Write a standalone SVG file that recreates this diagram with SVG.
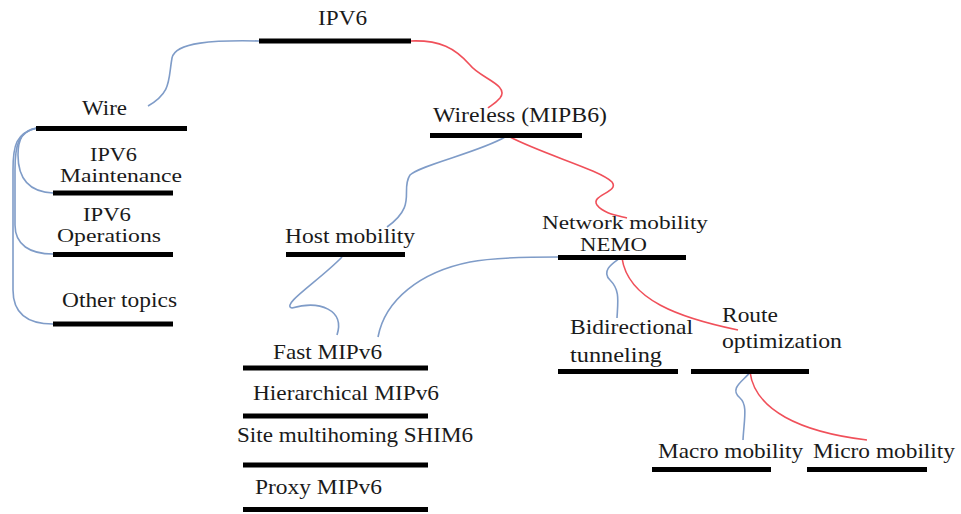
<svg xmlns="http://www.w3.org/2000/svg" width="961" height="514" viewBox="0 0 961 514">
<style>
.bar{stroke:#000;stroke-width:5;fill:none}
.b{stroke:#7f9cc8;stroke-width:1.6;fill:none}
.r{stroke:#f0505a;stroke-width:1.6;fill:none}
.t{font-family:'Liberation Serif','DejaVu Serif',serif;font-size:21px;fill:#1a1a1a}
.s{font-size:19px}
</style>
<rect width="961" height="514" fill="#fff"/>
<g id="connectors">
<path class="b" d="M259,41 C215,40 175,42 172,58 C168,80 172,92 148,106"/>
<path class="r" d="M411,41 C440,40 455,48 470,65 C480,78 510,85 500,98 C495,104 490,106 488,108"/>
<path class="b" d="M505,137 C480,152 420,165 410,175 C400,190 418,205 387,227"/>
<path class="r" d="M510,137 C545,155 600,170 612,182 C620,192 590,195 597,205 C603,213 615,215 627,218"/>
<path class="b" d="M558,257 C520,257 490,258 470,262 C420,272 385,300 378,337"/>
<path class="b" d="M342,257 C320,280 280,305 292,308 C320,300 345,310 337,335"/>
<path class="b" d="M620,258 C615,262 600,270 610,280 C620,290 618,300 617,318"/>
<path class="r" d="M622,258 C628,300 680,318 738,330"/>
<path class="b" d="M750,372 C745,380 728,388 740,398 C748,405 744,420 743,440"/>
<path class="r" d="M750,372 C755,410 800,432 867,440"/>
<path class="b" d="M37,128 C22,130 18,140 18,155 C18,180 30,192 53,193"/>
<path class="b" d="M37,128 C18,132 15,145 15,170 L15,225 C15,245 30,254 53,254"/>
<path class="b" d="M37,128 C16,133 13,145 13,170 L13,290 C13,315 30,324 53,324"/>
</g>
<g class="t" font-family="Liberation Serif, DejaVu Serif, serif">
<g id="ipv6"><text x="318" y="25" textLength="49" lengthAdjust="spacingAndGlyphs">IPV6</text><line class="bar" x1="259" y1="41" x2="411" y2="41"/></g>
<g id="wire"><text x="82" y="115" textLength="45" lengthAdjust="spacingAndGlyphs">Wire</text><line class="bar" x1="36" y1="128.5" x2="187" y2="128.5"/></g>
<g id="maintenance"><text class="s" x="90" y="161" textLength="47" lengthAdjust="spacingAndGlyphs">IPV6</text><text class="s" x="60" y="182" textLength="122" lengthAdjust="spacingAndGlyphs">Maintenance</text><line class="bar" x1="53" y1="193" x2="173" y2="193"/></g>
<g id="operations"><text class="s" x="83" y="221" textLength="48" lengthAdjust="spacingAndGlyphs">IPV6</text><text class="s" x="57" y="242" textLength="104" lengthAdjust="spacingAndGlyphs">Operations</text><line class="bar" x1="53" y1="254.5" x2="173" y2="254.5"/></g>
<g id="other"><text x="62" y="307" textLength="115" lengthAdjust="spacingAndGlyphs">Other topics</text><line class="bar" x1="53" y1="324" x2="173" y2="324"/></g>
<g id="wireless"><text x="433" y="122" textLength="174" lengthAdjust="spacingAndGlyphs">Wireless (MIPB6)</text><line class="bar" x1="430" y1="135.5" x2="582" y2="135.5"/></g>
<g id="host"><text x="285" y="243" textLength="130" lengthAdjust="spacingAndGlyphs">Host mobility</text><line class="bar" x1="286" y1="254.5" x2="405" y2="254.5"/></g>
<g id="nemo"><text class="s" x="542" y="229" textLength="166" lengthAdjust="spacingAndGlyphs">Network mobility</text><text class="s" x="580" y="251" textLength="67" lengthAdjust="spacingAndGlyphs">NEMO</text><line class="bar" x1="558" y1="257.5" x2="686" y2="257.5"/></g>
<g id="fast"><text x="273" y="359" textLength="109" lengthAdjust="spacingAndGlyphs">Fast MIPv6</text><line class="bar" x1="243" y1="368" x2="428" y2="368"/></g>
<g id="hier"><text x="253" y="400" textLength="186" lengthAdjust="spacingAndGlyphs">Hierarchical MIPv6</text><line class="bar" x1="243" y1="416" x2="428" y2="416"/></g>
<g id="site"><text x="237" y="442" textLength="236" lengthAdjust="spacingAndGlyphs">Site multihoming SHIM6</text><line class="bar" x1="243" y1="465" x2="428" y2="465"/></g>
<g id="proxy"><text x="255" y="494" textLength="127" lengthAdjust="spacingAndGlyphs">Proxy MIPv6</text><line class="bar" x1="243" y1="509.5" x2="428" y2="509.5"/></g>
<g id="bidir"><text x="570" y="334" textLength="123" lengthAdjust="spacingAndGlyphs">Bidirectional</text><text x="570" y="362" textLength="92" lengthAdjust="spacingAndGlyphs">tunneling</text><line class="bar" x1="558" y1="371.5" x2="678" y2="371.5"/></g>
<g id="route"><text x="722" y="322" textLength="56" lengthAdjust="spacingAndGlyphs">Route</text><text x="722" y="348" textLength="120" lengthAdjust="spacingAndGlyphs">optimization</text><line class="bar" x1="691" y1="371.5" x2="809" y2="371.5"/></g>
<g id="macro"><text x="658" y="458" textLength="145" lengthAdjust="spacingAndGlyphs">Macro mobility</text><line class="bar" x1="652" y1="469.5" x2="771" y2="469.5"/></g>
<g id="micro"><text x="813" y="458" textLength="142" lengthAdjust="spacingAndGlyphs">Micro mobility</text><line class="bar" x1="807" y1="469.5" x2="927" y2="469.5"/></g>
</g>
</svg>
